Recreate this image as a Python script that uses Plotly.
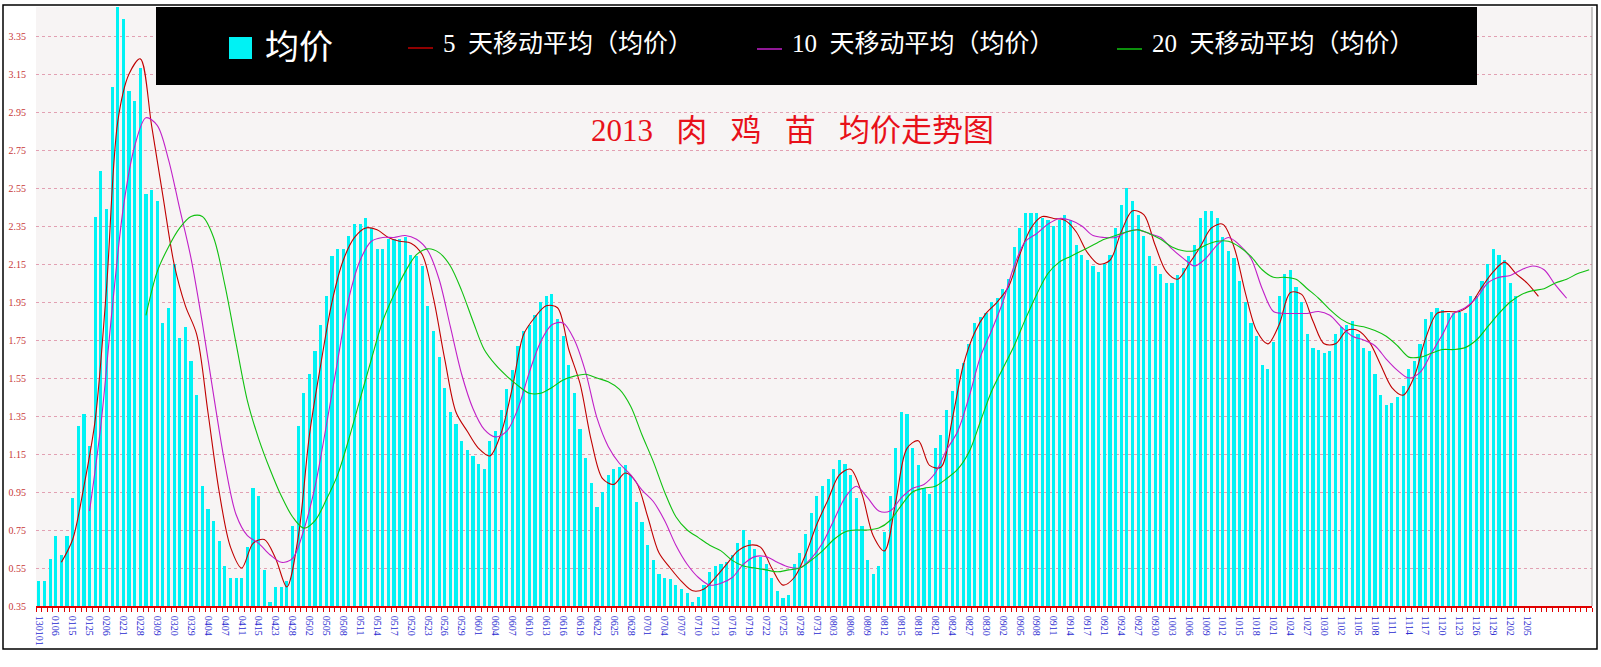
import plotly.graph_objects as go

# ---------------- data ----------------
date_labels = [
    "130101", "0106", "0115", "0125", "0206", "0221", "0228", "0309", "0320", "0329",
    "0404", "0407", "0411", "0415", "0423", "0428", "0502", "0505", "0508", "0511",
    "0514", "0517", "0520", "0523", "0526", "0529", "0601", "0604", "0607", "0610",
    "0613", "0616", "0619", "0622", "0625", "0628", "0701", "0704", "0707", "0710",
    "0713", "0716", "0719", "0722", "0725", "0728", "0731", "0803", "0806", "0809",
    "0812", "0815", "0818", "0821", "0824", "0827", "0830", "0902", "0905", "0908",
    "0911", "0914", "0917", "0921", "0924", "0927", "0930", "1003", "1006", "1009",
    "1012", "1015", "1018", "1021", "1024", "1027", "1030", "1102", "1105", "1108",
    "1111", "1114", "1117", "1120", "1123", "1126", "1129", "1202", "1205",
]
label_every = 3          # one date label every 3 categories
n_categories = 276       # category slots on the axis (data + empty tail)

avg_price = [
    0.48, 0.48, 0.60, 0.72, 0.62, 0.72, 0.92, 1.30, 1.36, 1.19,
    2.40, 2.64, 2.44, 3.08, 3.55, 3.44, 3.06, 3.01, 3.18, 2.52,
    2.54, 2.48, 1.84, 1.92, 2.15, 1.76, 1.82, 1.64, 1.46, 0.98,
    0.86, 0.80, 0.69, 0.56, 0.50, 0.50, 0.50, 0.66, 0.97, 0.93,
    0.54, 0.37, 0.45, 0.45, 0.48, 0.77, 1.30, 1.47, 1.57, 1.69,
    1.83, 1.98, 2.19, 2.23, 2.23, 2.30, 2.36, 2.36, 2.39, 2.34,
    2.23, 2.23, 2.28, 2.28, 2.28, 2.29, 2.20, 2.19, 2.14, 1.93,
    1.80, 1.66, 1.50, 1.37, 1.31, 1.22, 1.17, 1.14, 1.10, 1.07,
    1.22, 1.27, 1.38, 1.49, 1.59, 1.72, 1.80, 1.83, 1.88, 1.95,
    1.98, 1.99, 1.86, 1.77, 1.62, 1.47, 1.28, 1.13, 1.00, 0.87,
    0.95, 1.04, 1.07, 1.08, 1.09, 1.04, 0.90, 0.79, 0.67, 0.59,
    0.52, 0.50, 0.49, 0.46, 0.44, 0.42, 0.37, 0.40, 0.46, 0.53,
    0.56, 0.57, 0.58, 0.62, 0.68, 0.75, 0.70, 0.65, 0.61, 0.57,
    0.50, 0.43, 0.39, 0.41, 0.57, 0.63, 0.73, 0.84, 0.93, 0.98,
    1.02, 1.07, 1.12, 1.10, 1.04, 0.92, 0.77, 0.59, 0.52, 0.56,
    0.74, 0.93, 1.18, 1.37, 1.36, 1.18, 1.09, 0.97, 0.94, 1.18,
    1.25, 1.38, 1.48, 1.60, 1.63, 1.73, 1.84, 1.87, 1.89, 1.95,
    1.97, 2.02, 2.07, 2.24, 2.34, 2.42, 2.42, 2.42, 2.39, 2.38,
    2.35, 2.38, 2.41, 2.38, 2.25, 2.20, 2.17, 2.14, 2.11, 2.15,
    2.20, 2.34, 2.46, 2.55, 2.48, 2.41, 2.30, 2.19, 2.14, 2.10,
    2.05, 2.05, 2.09, 2.13, 2.19, 2.25, 2.39, 2.43, 2.43, 2.39,
    2.29, 2.22, 2.18, 2.06, 1.95, 1.84, 1.77, 1.62, 1.60, 1.74,
    1.98, 2.10, 2.12, 2.03, 1.95, 1.78, 1.71, 1.70, 1.68, 1.69,
    1.78, 1.82, 1.83, 1.85, 1.78, 1.71, 1.69, 1.57, 1.46, 1.41,
    1.42, 1.45, 1.51, 1.60, 1.64, 1.73, 1.86, 1.90, 1.92, 1.91,
    1.89, 1.89, 1.90, 1.89, 1.98, 1.98, 2.06, 2.15, 2.23, 2.20,
    2.17, 2.05, 1.98,
]

# moving-average lines, every 2nd category
ma5_start, ma5_step = 4, 2
ma5 = [
    0.58, 0.70, 0.98, 1.33, 2.02, 2.90, 3.15, 3.23, 2.88, 2.51,
    2.15, 1.93, 1.78, 1.37, 0.95, 0.66, 0.55, 0.68, 0.70, 0.60,
    0.45, 0.71, 1.25, 1.62, 1.95, 2.17, 2.29, 2.34, 2.33, 2.29,
    2.27, 2.26, 2.20, 1.97, 1.65, 1.37, 1.27, 1.18, 1.14, 1.26,
    1.50, 1.78, 1.87, 1.93, 1.92, 1.70, 1.52, 1.22, 1.02, 0.99,
    1.05, 1.00, 0.82, 0.63, 0.55, 0.48, 0.43, 0.44, 0.50, 0.57,
    0.64, 0.67, 0.66, 0.55, 0.46, 0.50, 0.62, 0.78, 0.91, 1.04,
    1.07, 0.94, 0.72, 0.64, 0.90, 1.18, 1.22, 1.09, 1.08, 1.33,
    1.62, 1.79, 1.89, 1.95, 2.03, 2.20, 2.34, 2.40, 2.39, 2.38,
    2.32, 2.21, 2.15, 2.17, 2.32, 2.43, 2.41, 2.25, 2.11, 2.07,
    2.15, 2.24, 2.34, 2.36, 2.24, 2.00, 1.80, 1.73, 1.83, 2.00,
    1.99, 1.85, 1.73, 1.73, 1.80, 1.80, 1.74, 1.62, 1.50, 1.46,
    1.56, 1.76, 1.89, 1.90, 1.90, 1.94, 2.03, 2.11, 2.16, 2.10,
    2.05, 1.98,
]
ma10_start, ma10_step = 9, 2
ma10 = [
    0.85, 1.30, 1.91, 2.45, 2.77, 2.92, 2.88, 2.70, 2.44, 2.18,
    1.84, 1.46, 1.10, 0.83, 0.72, 0.68, 0.62, 0.58, 0.60, 0.75,
    0.98, 1.30, 1.64, 1.97, 2.17, 2.27, 2.29, 2.29, 2.30, 2.28,
    2.22, 2.07, 1.82, 1.57, 1.39, 1.28, 1.24, 1.27, 1.39, 1.58,
    1.74, 1.83, 1.84, 1.75, 1.58, 1.34, 1.19, 1.10, 1.04, 0.96,
    0.90, 0.80, 0.67, 0.57, 0.50, 0.46, 0.47, 0.50, 0.57, 0.61,
    0.61, 0.58, 0.555, 0.55, 0.60, 0.68, 0.80, 0.92, 0.98, 0.92,
    0.85, 0.85, 0.92, 0.97, 0.99, 1.05, 1.17, 1.27, 1.45, 1.66,
    1.80, 1.95, 2.14, 2.27, 2.31, 2.36, 2.39, 2.38, 2.35, 2.30,
    2.29, 2.29, 2.32, 2.33, 2.31, 2.29, 2.23, 2.18, 2.14, 2.18,
    2.25, 2.29, 2.25, 2.18, 2.02, 1.90, 1.89, 1.89, 1.89, 1.90,
    1.88, 1.82, 1.77, 1.75, 1.72, 1.65, 1.59, 1.55, 1.58, 1.68,
    1.78, 1.89, 1.92, 1.97, 2.05, 2.08, 2.09, 2.12, 2.14, 2.12,
    2.04, 1.97,
]
ma20_start, ma20_step = 19, 2
ma20 = [
    1.88, 2.11, 2.24, 2.34, 2.40, 2.40, 2.29, 2.04, 1.73, 1.43,
    1.23, 1.07, 0.93, 0.82, 0.76, 0.80, 0.91, 1.04, 1.23, 1.44,
    1.65, 1.85, 1.99, 2.11, 2.20, 2.23, 2.21, 2.14, 2.01, 1.85,
    1.70, 1.62, 1.56, 1.51, 1.47, 1.47, 1.50, 1.54, 1.56, 1.57,
    1.55, 1.53, 1.49, 1.40, 1.25, 1.11, 0.95, 0.82, 0.75, 0.71,
    0.67, 0.64, 0.59, 0.56, 0.55, 0.54, 0.53, 0.54, 0.55, 0.59,
    0.64, 0.70, 0.74, 0.75, 0.75, 0.76, 0.80, 0.88, 0.95, 0.97,
    0.98, 1.02, 1.07, 1.16, 1.32, 1.48, 1.60, 1.72, 1.86, 1.99,
    2.10, 2.16, 2.19, 2.22, 2.25, 2.28, 2.30, 2.32, 2.33, 2.31,
    2.28, 2.24, 2.22, 2.22, 2.25, 2.27, 2.27, 2.24, 2.19, 2.12,
    2.08, 2.08, 2.07, 2.02, 1.97, 1.91, 1.86, 1.83, 1.82, 1.80,
    1.77, 1.72, 1.66, 1.66, 1.68, 1.70, 1.70, 1.71, 1.75, 1.82,
    1.89, 1.95, 1.99, 2.01, 2.02, 2.05, 2.07, 2.10, 2.12,
]

y_ticks = [0.35, 0.55, 0.75, 0.95, 1.15, 1.35, 1.55, 1.75, 1.95, 2.15,
           2.35, 2.55, 2.75, 2.95, 3.15, 3.35]
y_range = [0.35, 3.503]

title_text = "2013 肉 鸡 苗 均价走势图"
bar_name = "均价"
ma_names = ["5 天移动平均（均价）", "10 天移动平均（均价）", "20 天移动平均（均价）"]

# ---------------- style ----------------
W, H = 1601, 667
L, R, T, B = 36, 1592, 7, 606     # plot area in pixels
SERIF = "Liberation Serif, Noto Sans CJK SC, serif"
c_bar = "#00f2f4"
c_ma = ["#c00000", "#c020c8", "#10c010"]


def px(x):
    return (x - L) / (R - L)


def py(y):
    return (B - y) / (B - T)


fig = go.Figure()
fig.add_trace(go.Bar(
    x=list(range(len(avg_price))), y=avg_price, name=bar_name,
    marker=dict(color=c_bar, line=dict(width=0)), width=0.56,
))
for vals, start, step, name, col in [
    (ma5, ma5_start, ma5_step, ma_names[0], c_ma[0]),
    (ma10, ma10_start, ma10_step, ma_names[1], c_ma[1]),
    (ma20, ma20_start, ma20_step, ma_names[2], c_ma[2]),
]:
    fig.add_trace(go.Scatter(
        x=[start + step * k for k in range(len(vals))], y=vals, name=name,
        mode="lines", line=dict(color=col, width=1.1, shape="spline", smoothing=0.9),
        cliponaxis=True,
    ))

shapes = []
# outer frame
shapes.append(dict(type="rect", xref="paper", yref="paper",
                   x0=px(3), x1=px(1597), y0=py(5), y1=py(649),
                   line=dict(color="#000000", width=1.5), fillcolor="rgba(0,0,0,0)",
                   layer="above"))
# right plot border
shapes.append(dict(type="line", xref="paper", yref="paper", x0=1, x1=1, y0=0, y1=1,
                   line=dict(color="#909090", width=1), layer="above"))
# legend box
shapes.append(dict(type="rect", xref="paper", yref="paper",
                   x0=px(156), x1=px(1477), y0=py(7), y1=py(85),
                   line=dict(width=0), fillcolor="#000000", layer="above"))
shapes.append(dict(type="rect", xref="paper", yref="paper",
                   x0=px(229), x1=px(252), y0=py(37), y1=py(59),
                   line=dict(width=0), fillcolor=c_bar, layer="above"))
for (x0, x1, yy), col in zip([(408, 433, 48), (757, 782, 49), (1117, 1142, 49)], c_ma):
    shapes.append(dict(type="line", xref="paper", yref="paper",
                       x0=px(x0), x1=px(x1), y0=py(yy), y1=py(yy),
                       line=dict(color=col, width=1.5), layer="above"))

annotations = [
    dict(text=bar_name, xref="paper", yref="paper", x=px(263), y=py(48),
         xanchor="left", yanchor="middle", showarrow=False,
         font=dict(family=SERIF, size=34, color="#ffffff")),
]
for xx, name in zip([441, 790, 1150], ma_names):
    annotations.append(dict(text=name.replace(" ", "\u00a0\u00a0"), xref="paper", yref="paper",
                            x=px(xx), y=py(44), xanchor="left", yanchor="middle",
                            showarrow=False,
                            font=dict(family=SERIF, size=25, color="#ffffff")))
annotations.append(dict(text=title_text.replace(" ", "\u00a0\u00a0\u00a0"),
                        xref="paper", yref="paper", x=px(792), y=py(131),
                        xanchor="center", yanchor="middle", showarrow=False,
                        font=dict(family=SERIF, size=31, color="#e8101a")))

fig.update_layout(
    width=W, height=H,
    margin=dict(l=L, r=W - R, t=T, b=H - B, pad=0),
    paper_bgcolor="#ffffff", plot_bgcolor="#f7f4f4",
    showlegend=False, bargap=0,
    shapes=shapes, annotations=annotations,
    xaxis=dict(
        range=[-0.5, n_categories - 0.5],
        tickmode="array",
        tickvals=[label_every * k for k in range(len(date_labels))],
        ticktext=date_labels,
        tickangle=90,
        tickfont=dict(family=SERIF, size=10, color="#2a2ad0"),
        ticks="", showgrid=False, zeroline=False,
        showline=True, linecolor="#e00000", linewidth=1.5,
        ticklabelstandoff=6,
        minor=dict(tickmode="linear", tick0=-0.5, dtick=1, ticks="outside",
                   ticklen=4, tickcolor="#e00000", tickwidth=1, showgrid=False),
    ),
    yaxis=dict(
        range=y_range,
        tickmode="array", tickvals=y_ticks,
        ticktext=[f"{v:.2f}" for v in y_ticks],
        tickfont=dict(family=SERIF, size=10, color="#c83838"),
        ticks="", showline=False, zeroline=False,
        showgrid=True, gridcolor="#e2a0b2", gridwidth=1, griddash="3px,3px",
        ticklabelstandoff=9,
    ),
)

fig.write_html("out.html")
